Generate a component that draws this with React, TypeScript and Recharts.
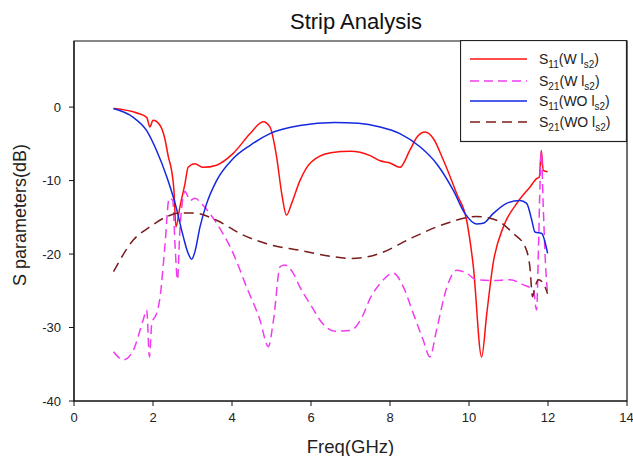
import React from 'react';
import { LineChart, Line, XAxis, YAxis, ReferenceArea, Legend } from 'recharts';

// ---- data (frequency in GHz, S-parameters in dB) ----
const freqS11W = [1.0, 1.59, 1.84, 1.92, 2.0, 2.18, 2.3, 2.39, 2.47, 2.53, 2.58, 2.68, 2.81, 2.89, 3.06, 3.27, 3.61, 4.03, 4.46, 4.79, 4.96, 5.13, 5.26, 5.38, 5.51, 5.72, 6.0, 6.5, 7.0, 7.5, 7.75, 8.0, 8.25, 8.5, 8.68, 8.89, 9.1, 9.35, 9.69, 9.94, 10.11, 10.32, 10.45, 10.61, 10.87, 11.21, 11.54, 11.72, 11.78, 11.83, 11.88, 11.99];
const s11W = [-0.2, -0.8, -1.4, -2.7, -1.8, -2.5, -4.3, -6.8, -8.6, -11.3, -16.3, -13.6, -10.4, -8.2, -7.7, -8.2, -7.9, -6.3, -3.6, -2.0, -2.7, -6.8, -11.8, -14.7, -13.1, -10.0, -7.5, -6.2, -6.0, -6.6, -7.3, -7.6, -8.2, -5.9, -4.1, -3.4, -4.3, -7.2, -11.8, -15.4, -21.7, -34.0, -28.1, -21.3, -16.3, -13.1, -10.9, -9.7, -9.5, -5.9, -8.6, -8.8];

const freqS21W = [1.0, 1.25, 1.5, 1.75, 1.84, 1.91, 1.97, 2.09, 2.18, 2.3, 2.41, 2.5, 2.56, 2.62, 2.68, 2.81, 2.94, 3.06, 3.27, 3.61, 4.03, 4.37, 4.71, 4.92, 5.05, 5.22, 5.34, 5.55, 5.72, 6.0, 6.3, 6.6, 7.0, 7.3, 7.5, 7.75, 8.08, 8.34, 8.59, 8.84, 9.01, 9.18, 9.44, 9.69, 9.94, 10.19, 10.61, 11.04, 11.38, 11.63, 11.71, 11.76, 11.8, 11.83, 11.88, 11.94, 11.99];
const s21W = [-33.3, -34.4, -33.1, -29.0, -27.6, -34.0, -29.4, -28.1, -25.8, -19.0, -12.4, -12.7, -19.0, -23.5, -16.8, -11.5, -12.7, -12.4, -13.4, -15.8, -19.9, -24.5, -29.0, -32.6, -29.0, -21.7, -21.5, -22.6, -24.5, -27.0, -29.5, -30.5, -30.4, -28.5, -26.0, -24.0, -22.6, -24.5, -28.1, -31.7, -34.0, -30.3, -24.5, -22.2, -22.6, -23.5, -23.6, -23.5, -24.2, -24.9, -27.6, -19.0, -10.0, -6.1, -13.6, -21.7, -25.4];

const freqS11WO = [1.0, 1.5, 1.84, 2.09, 2.35, 2.56, 2.77, 2.89, 2.98, 3.06, 3.19, 3.36, 3.61, 4.03, 4.46, 4.96, 5.72, 6.6, 7.2, 7.75, 8.25, 8.76, 9.18, 9.6, 9.9, 10.19, 10.36, 10.61, 10.95, 11.29, 11.46, 11.59, 11.67, 11.84, 11.99];
const s11WO = [-0.2, -1.4, -3.2, -5.9, -9.5, -13.1, -17.7, -19.9, -20.7, -19.7, -16.3, -13.1, -10.0, -7.0, -5.2, -3.6, -2.5, -2.1, -2.2, -2.7, -3.6, -5.4, -7.7, -11.3, -14.5, -15.9, -15.8, -14.5, -13.1, -12.7, -13.1, -15.4, -17.0, -17.2, -19.9];

const freqS21WO = [1.0, 1.5, 1.92, 2.35, 2.68, 3.02, 3.61, 4.2, 4.88, 5.72, 6.5, 7.0, 7.5, 7.75, 8.59, 9.44, 10.19, 10.7, 11.12, 11.42, 11.54, 11.61, 11.67, 11.76, 11.88, 11.99];
const s21WO = [-22.4, -18.1, -16.3, -14.9, -14.4, -14.4, -15.4, -17.2, -18.6, -19.5, -20.3, -20.6, -20.3, -19.9, -17.7, -15.8, -14.9, -15.4, -17.2, -19.0, -21.7, -25.8, -24.5, -23.5, -24.0, -25.4];

const xTicks = [0, 2, 4, 6, 8, 10, 12, 14];
const yTicks = [-40, -30, -20, -10, 0];

const zip = (xs: number[], ys: number[]) => xs.map((x, i) => ({ x, y: ys[i] }));

const series = [
  { key: 's11w', data: zip(freqS11W, s11W), color: '#ff1010', dash: undefined, sub1: '11', mid: '(W l' },
  { key: 's21w', data: zip(freqS21W, s21W), color: '#f03cf0', dash: '9 5', sub1: '21', mid: '(W l' },
  { key: 's11wo', data: zip(freqS11WO, s11WO), color: '#1428e0', dash: undefined, sub1: '11', mid: '(WO l' },
  { key: 's21wo', data: zip(freqS21WO, s21WO), color: '#7a1c1c', dash: '10 6', sub1: '21', mid: '(WO l' },
];

const FONT = '"Liberation Sans", Arial, sans-serif';

const LegendBox = () => (
  <svg width={168} height={103} style={{ display: 'block' }}>
    <rect x={0.5} y={0.5} width={166} height={101} fill="#fff" stroke="#222" strokeWidth={1.2} />
    {series.map((s, i) => {
      const y = [19, 41, 61, 82][i];
      return (
        <g key={s.key}>
          <line x1={10} x2={67} y1={y} y2={y} stroke={s.color} strokeWidth={1.5} strokeDasharray={s.dash} />
          <text x={79} y={y + 5} fontSize={14} fontFamily={FONT} fill="#222">
            S<tspan fontSize={10} dy={4}>{s.sub1}</tspan>
            <tspan dy={-4}>{s.mid}</tspan>
            <tspan fontSize={10} dy={4}>s2</tspan>
            <tspan dy={-4}>)</tspan>
          </text>
        </g>
      );
    })}
  </svg>
);

const YLabel = () => (
  <text x={20} y={215} transform="rotate(-90, 20, 215)" textAnchor="middle" dominantBaseline="central" fontSize={18} fontFamily={FONT} fill="#222">
    S parameters(dB)
  </text>
);

const XLabel = (props: any) => {
  const vb = props.viewBox || { x: 74, width: 553 };
  return (
    <text x={vb.x + vb.width / 2} y={453} textAnchor="middle" fontSize={18.5} fontFamily={FONT} fill="#222">
      Freq(GHz)
    </text>
  );
};

export default function App() {
  return (
    <div style={{ position: 'absolute', left: 0, top: 0, width: 633, height: 456, background: '#fff' }}>
      <div style={{ position: 'absolute', left: 256, top: 9, width: 200, textAlign: 'center', fontFamily: FONT, fontSize: 22, lineHeight: '26px', color: '#111' }}>
        Strip Analysis
      </div>
      <LineChart width={633} height={456} margin={{ top: 41, right: 6, bottom: 0, left: 0 }}>
        <XAxis
          dataKey="x"
          type="number"
          domain={[0, 14]}
          ticks={xTicks}
          allowDataOverflow
          height={55}
          tickSize={5}
          tickMargin={7}
          stroke="#111"
          tick={{ fill: '#222', fontSize: 13, fontFamily: FONT }}
          label={(p: any) => <XLabel {...p} />}
        />
        <YAxis
          type="number"
          domain={[-40, 9]}
          ticks={yTicks}
          allowDataOverflow
          width={74}
          tickSize={5}
          tickMargin={8}
          stroke="#111"
          tick={{ fill: '#222', fontSize: 13, fontFamily: FONT }}
          label={() => <YLabel />}
        />
        <ReferenceArea x1={0} x2={14} y1={-40} y2={9} fill="none" stroke="#111" strokeWidth={1.2} />
        {series.map((s) => (
          <Line
            key={s.key}
            data={s.data}
            dataKey="y"
            type="monotone"
            stroke={s.color}
            strokeWidth={1.5}
            strokeDasharray={s.dash}
            dot={false}
            activeDot={false}
            isAnimationActive={false}
          />
        ))}
        <Legend
          layout="vertical"
          align="center"
          verticalAlign="middle"
          wrapperStyle={{ left: 460, top: 40, width: 168, height: 103 }}
          content={() => <LegendBox />}
        />
      </LineChart>
    </div>
  );
}
